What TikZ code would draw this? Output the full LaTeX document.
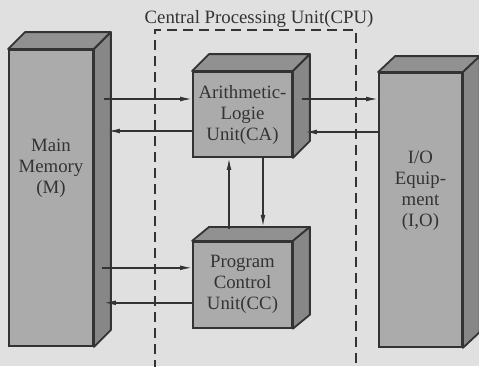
\documentclass[tikz,border=0pt]{standalone}
\usepackage{fontspec}
\setmainfont{Liberation Serif}
\usetikzlibrary{positioning, arrows.meta}

\definecolor{paper}{gray}{0.88}
\definecolor{frontgray}{gray}{0.67}
\definecolor{topgray}{gray}{0.57}
\definecolor{sidegray}{gray}{0.53}
\definecolor{ink}{gray}{0.2}

\begin{document}
\begin{tikzpicture} [
        x=0.5pt, y=-0.5pt,
        font=\fontsize{9.4}{10.5}\selectfont,
        unit/.style={rectangle, draw=ink, fill=frontgray, line width=0.9pt, inner sep=0pt, align=center, text=ink},
        topface/.style={draw=ink, fill=topgray, line width=0.9pt, line join=round},
        sideface/.style={draw=ink, fill=sidegray, line width=0.9pt, line join=round},
        line/.style={draw=ink, line width=0.7pt, -{Latex[length=6pt, width=2.4pt]}},
        frame/.style={draw=ink, line width=0.7pt, dash pattern=on 5pt off 3pt}
    ]
        % Paper
        \fill[paper] (0,0) rectangle (479,366);
        \useasboundingbox (0,0) rectangle (479,366);

        % CPU frame
        \draw[frame] (155,370) |- (356,30) -- (356,370);
        \node[text=ink] (cpu) at (259,19) {Central Processing Unit(CPU)};

        % Nodes
        \node[unit, minimum width=42pt, minimum height=148pt,
              label={[align=center, text=ink, yshift=15pt]center:Main\\Memory\\(M)}] (M) at (51,198) {};
        \node[unit, minimum width=49.5pt, minimum height=42.5pt] (ALU) at (242.5,114.5) {Arithmetic-\\Logie\\Unit(CA)};
        \node[unit, minimum width=49.5pt, minimum height=43pt, below=41.5pt of ALU] (CC) {Program\\Control\\Unit(CC)};
        \node[unit, minimum width=41.5pt, minimum height=137pt,
              label={[align=center, text=ink, yshift=9.5pt]center:I/O\\Equip-\\ment\\(I,O)}] (IO) at (420.5,210) {};

        % Faces
        \path[topface] (M.north west) -- ++(17,-17) -- ([shift={(17,-17)}]M.north east) -- (M.north east) -- cycle;
        \path[sideface] (M.north east) -- ++(17,-17) -- ([shift={(17,-17)}]M.south east) -- (M.south east) -- cycle;
        \path[topface] (ALU.north west) -- ++(17,-17) -- ([shift={(17,-17)}]ALU.north east) -- (ALU.north east) -- cycle;
        \path[sideface] (ALU.north east) -- ++(17,-17) -- ([shift={(17,-17)}]ALU.south east) -- (ALU.south east) -- cycle;
        \path[topface] (CC.north west) -- ++(17,-14) -- ([shift={(17,-14)}]CC.north east) -- (CC.north east) -- cycle;
        \path[sideface] (CC.north east) -- ++(17,-14) -- ([shift={(17,-14)}]CC.south east) -- (CC.south east) -- cycle;
        \path[topface] (IO.north west) -- ++(17,-16) -- ([shift={(17,-16)}]IO.north east) -- (IO.north east) -- cycle;
        \path[sideface] (IO.north east) -- ++(17,-16) -- ([shift={(17,-16)}]IO.south east) -- (IO.south east) -- cycle;

        % Paths
        \path [line] ([shift={(5pt,7.75pt)}]M.east |- ALU.west) -- ([yshift=7.75pt]ALU.west);
        \path [line] ([yshift=-8.25pt]ALU.west) -- ([shift={(7pt,-8.25pt)}]M.east |- ALU.west);
        \path [line] ([shift={(4.5pt,7.75pt)}]ALU.east) -- ([yshift=7.75pt]ALU.east -| IO.west);
        \path [line] ([yshift=-8.75pt]ALU.east -| IO.west) -- ([shift={(6pt,-8.75pt)}]ALU.east);

        \path [line] ([shift={(10.25pt,0pt)}]ALU.south) -- ([shift={(10.25pt,7pt)}]CC.north);
        \path [line] ([shift={(-6.75pt,6pt)}]CC.north) -- ([shift={(-6.75pt,0pt)}]ALU.south);

        \path [line] ([shift={(4pt,8.5pt)}]M.east |- CC.west) -- ([yshift=8.5pt]CC.west);
        \path [line] ([yshift=-9pt]CC.west) -- ([shift={(5pt,-9pt)}]M.east |- CC.west);
    \end{tikzpicture}
\end{document}
